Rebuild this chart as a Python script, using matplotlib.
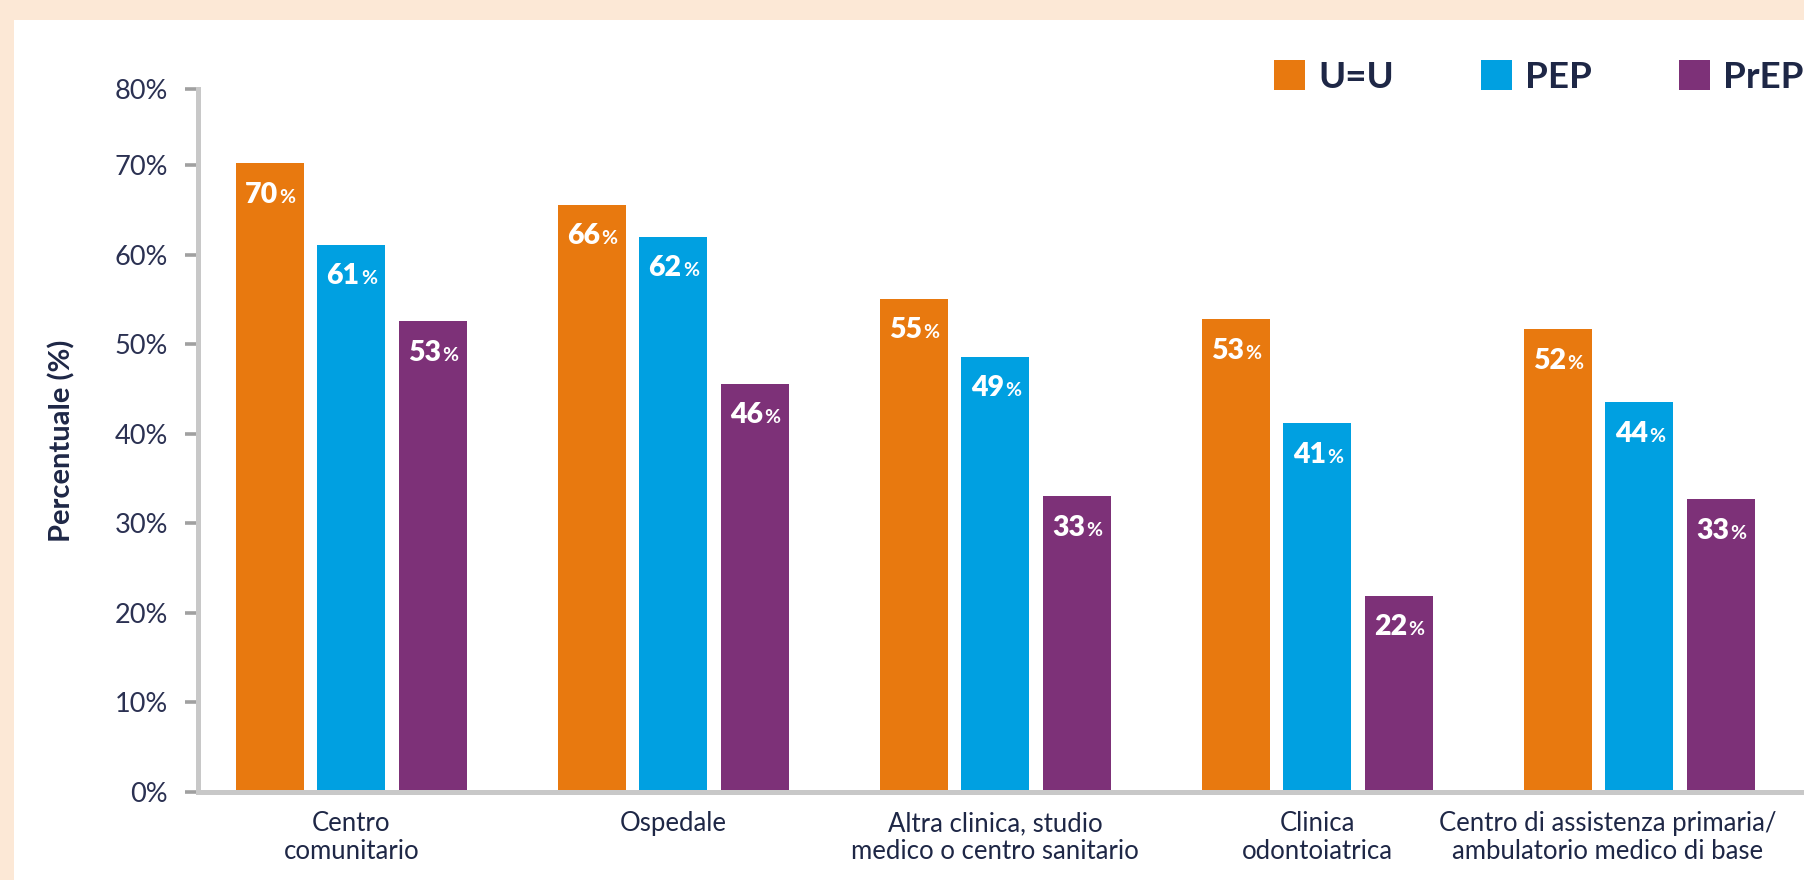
import numpy as np
import matplotlib
matplotlib.use("Agg")
import matplotlib.pyplot as plt
from matplotlib.patches import Patch, Rectangle

plt.rcParams['font.family'] = ['Lato', 'DejaVu Sans']

# dati
categorie = ['Centro\ncomunitario', 'Ospedale', 'Altra clinica, studio\nmedico o centro sanitario',
             'Clinica\nodontoiatrica', 'Centro di assistenza primaria/\nambulatorio medico di base']
serie = ['U=U', 'PEP', 'PrEP']
uu = [70.2, 65.6, 55.1, 52.8, 51.7]
pep = [61.1, 62.0, 48.6, 41.2, 43.5]
prep = [52.6, 45.6, 33.0, 21.9, 32.7]
tick_vals = [0, 10, 20, 30, 40, 50, 60, 70, 78.5]
tick_labels = ['0%', '10%', '20%', '30%', '40%', '50%', '60%', '70%', '80%']

colori = ['#E8790F', '#00A0E1', '#7D3178']
blu_scuro = '#1E2746'

fig = plt.figure(figsize=(18.04, 8.8), dpi=100)
fig.patch.set_facecolor('#FCE8D6')
fig.patches.append(Rectangle((14 / 1804, 0), 1, (880 - 20) / 880, transform=fig.transFigure,
                             facecolor='white', edgecolor='none', zorder=-10))

ax = fig.add_axes([198 / 1804, 88 / 880, 1 - 198 / 1804, (792 - 89) / 880])
ax.set_facecolor('none')

x = np.arange(len(categorie))
passo = 0.253
larg = 0.211
for i, (vals, col) in enumerate(zip([uu, pep, prep], colori)):
    pos = x + (i - 1) * passo
    ax.bar(pos, vals, width=larg, color=col, zorder=2)
    for xp, v in zip(pos, vals):
        ax.annotate(f'{round(v)}', (xp, v), xytext=(6, -28.5), textcoords='offset points',
                    ha='right', va='baseline', color='white', fontsize=20.5, fontweight='heavy')
        ax.annotate('%', (xp, v), xytext=(7, -28.5), textcoords='offset points',
                    ha='left', va='baseline', color='white', fontsize=14, fontweight='bold')

ax.set_xlim(-0.476, 4.511)
ax.set_ylim(0, 78.5)
ax.set_yticks(tick_vals)
ax.set_yticklabels(tick_labels)
ax.set_xticks(x)
ax.set_xticklabels([])

# etichette categorie (l'ultima spostata a sinistra come nell'originale)
spost = [0, 0, 0, 0, -23]
for xi, lab, dx in zip(x, categorie, spost):
    ax.annotate(lab, (xi, 0), xycoords=('data', 'axes fraction'), xytext=(dx, -14),
                textcoords='offset points', ha='center', va='top', fontsize=18.5,
                color=blu_scuro, linespacing=1.15)

for s in ['top', 'right']:
    ax.spines[s].set_visible(False)
for s in ['left', 'bottom']:
    ax.spines[s].set_color('#C8C8C8')
    ax.spines[s].set_linewidth(3.6)
ax.tick_params(axis='y', length=9.5, width=2.6, color='#A0A0A0', pad=12,
               labelsize=19.5, labelcolor='#2B3152')
ax.tick_params(axis='x', length=0)

ax.set_ylabel('Percentuale (%)', fontsize=21, fontweight='bold', color=blu_scuro, labelpad=28)

handles = [Patch(facecolor=c, edgecolor='none') for c in colori]
fig.legend(handles, serie, loc='center left', bbox_to_anchor=(1274 / 1804, 1 - 77 / 880),
           ncol=3, frameon=False, handlelength=0.85, handleheight=0.85,
           handletextpad=0.36, columnspacing=2.35, borderaxespad=0, borderpad=0,
           labelcolor=blu_scuro, prop={'size': 26.5, 'weight': 'bold'})

fig.savefig('out.png', dpi=100, facecolor=fig.get_facecolor())
